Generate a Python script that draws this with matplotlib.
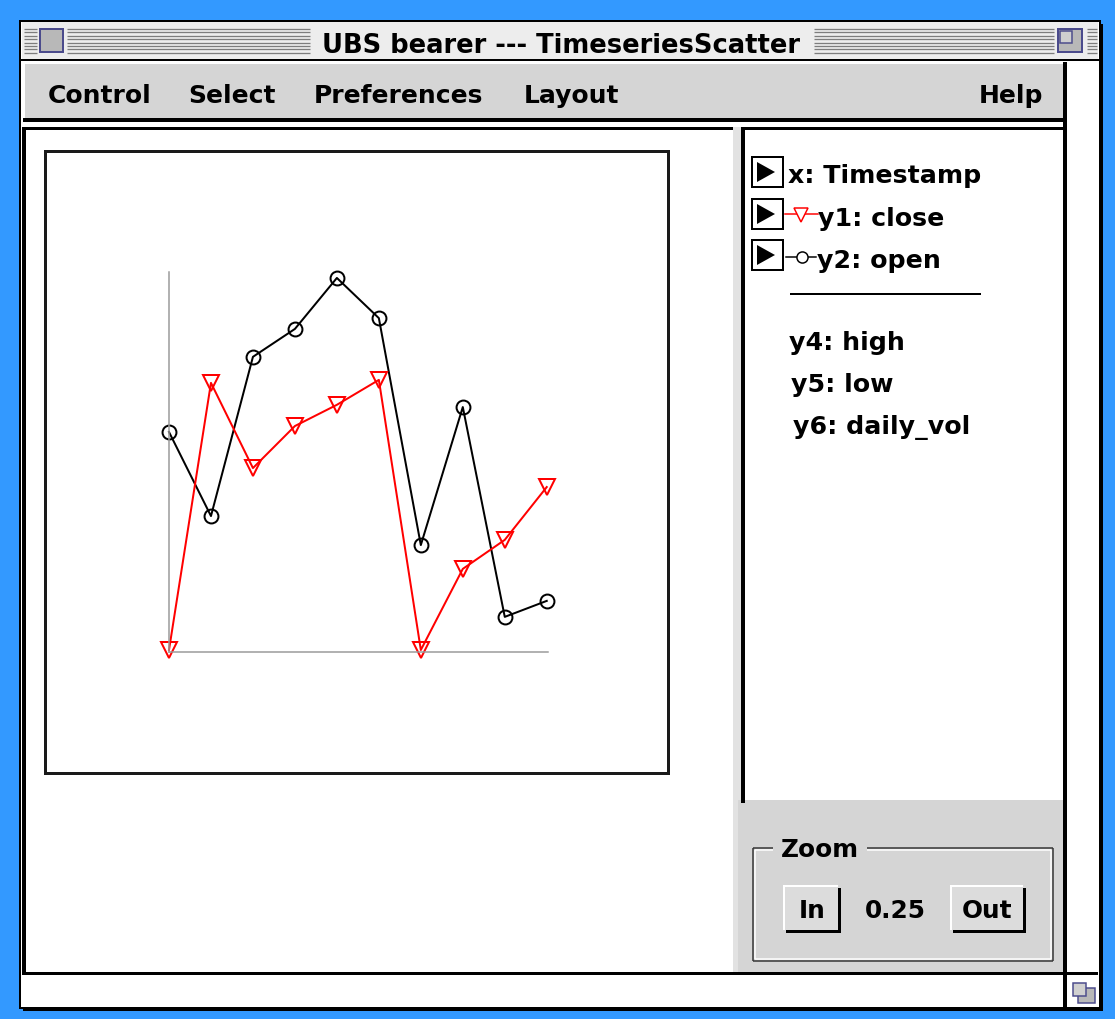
import matplotlib
matplotlib.use("Agg")
import matplotlib.pyplot as plt
from matplotlib.patches import Rectangle, Polygon
import numpy as np

# series (relative price scale, no tick labels shown)
day = [0, 1, 2, 3, 4, 5, 6, 7, 8, 9]
close_price = [0.0, 71.8, 48.9, 60.2, 65.9, 72.6, 0.0, 21.8, 29.6, 43.8]
open_price = [58.6, 36.0, 78.8, 86.3, 100.0, 89.2, 28.2, 65.3, 8.9, 13.2]

menu_items = ["Control", "Select", "Preferences", "Layout", "Help"]
legend_vars = ["y4: high", "y5: low", "y6: daily_vol"]

W, H = 1115, 1019
PX = 0.72  # one pixel in points at dpi 100

fig = plt.figure(figsize=(W / 100, H / 100), dpi=100, facecolor="#3399ff")
bg = fig.add_axes([0, 0, 1, 1])
bg.set_xlim(0, W)
bg.set_ylim(H, 0)
bg.axis("off")
renderer = fig.canvas.get_renderer()

NARROW = ["Liberation Sans Narrow", "DejaVu Sans"]
WIDE = ["DejaVu Sans"]


def box(x0, y0, x1, y1, fc="none", ec="none", lw=0, z=1):
    bg.add_patch(Rectangle((x0, y0), x1 - x0, y1 - y0, facecolor=fc,
                           edgecolor=ec, linewidth=lw * PX, zorder=z))


def seg(x0, y0, x1, y1, color="black", lw=1, z=3):
    bg.plot([x0, x1], [y0, y1], color=color, lw=lw * PX,
            solid_capstyle="butt", zorder=z)


def texts(items, family, weight="bold", base=20):
    # items: (string, x_left, x_right, baseline); one size for the group
    arts, ratios = [], []
    for s, x0, x1, y in items:
        t = bg.text((x0 + x1) / 2, y, s, fontsize=base, family=family,
                    weight=weight, ha="center", va="baseline", zorder=6)
        ratios.append((x1 - x0) / t.get_window_extent(renderer).width)
        arts.append(t)
    size = base * float(np.mean(ratios))
    for t in arts:
        t.set_fontsize(size)


# window + shadow
box(23, 24, 1103, 1011, fc="black", z=0)
box(20, 21, 1100, 1008, fc="white", ec="black", lw=2, z=0.5)

# title bar
box(22, 22, 1098, 59, fc="#ededed")
seg(21, 59.5, 1099, 59.5, lw=2)
for y in np.arange(29, 54, 3.4):
    for x0, x1 in [(24, 37), (67, 310), (814, 1054), (1087, 1097)]:
        seg(x0, y, x1, y, color="#7d7d7d", lw=1.3)
box(40, 29, 63, 52, fc="#b8b8b8", ec="#4b4b8c", lw=2, z=4)
box(1058, 29, 1082, 52, fc="#b8b8b8", ec="#4b4b8c", lw=2, z=4)
box(1060, 31, 1072, 43, fc="#cfcfcf", ec="#4b4b8c", lw=1.5, z=4)
texts([("UBS bearer --- TimeseriesScatter", 322, 800, 53)], NARROW)

# menu bar
box(23, 62, 1063, 118, fc="#d5d5d5")
seg(23, 63, 1063, 63, color="white", lw=2)
seg(24, 62, 24, 118, color="white", lw=2)
box(23, 118, 1067, 122, fc="black", z=3)
box(1063, 62, 1067, 1008, fc="black", z=3)
menu_x = [(48, 152), (188, 275), (311, 486), (522, 620), (981, 1041)]
texts([(m, a, b, 103) for m, (a, b) in zip(menu_items, menu_x)], NARROW)

# panels
box(22, 127, 733, 130, fc="black", z=3)
box(22, 127, 26, 972, fc="black", z=3)
box(733, 127, 741, 972, fc="#e2e2e2", z=2)
box(738, 800, 1063, 972, fc="#d5d5d5", z=2)
box(741, 127, 745, 803, fc="black", z=3)
box(741, 127, 1063, 130, fc="black", z=3)
box(22, 972, 1098, 975, fc="black", z=3)

# grow box
box(1078, 988, 1095, 1003, fc="#b8b8b8", ec="#4b4b8c", lw=1.5, z=4)
box(1073, 983, 1086, 996, fc="#d0d0d0", ec="#4b4b8c", lw=1.5, z=4)

# plot frame
box(45, 151, 668, 773, ec="#1a1a1a", lw=3, z=3)

# legend panel
for yc in [172, 214, 255]:
    box(752, yc - 15, 783, yc + 15, fc="white", ec="black", lw=2, z=4)
    bg.add_patch(Polygon([[757, yc - 10], [757, yc + 10], [775, yc]],
                         closed=True, fc="black", ec="none", zorder=5))
bg.plot([785, 818], [214, 214], color="red", lw=1.5 * PX, zorder=5)
bg.plot([801], [215], marker="v", markersize=10, mfc="white", mec="red",
        mew=1.5 * PX, zorder=6)
bg.plot([786, 816], [257, 257], color="black", lw=1.5 * PX, zorder=5)
bg.plot([802], [257], marker="o", markersize=8, mfc="white", mec="black",
        mew=1.5 * PX, zorder=6)
seg(790, 294, 981, 294, lw=2)
texts([("x: Timestamp", 790, 980, 183),
       ("y1: close", 818, 945, 226),
       ("y2: open", 818, 940, 268),
       (legend_vars[0], 790, 903, 350),
       (legend_vars[1], 790, 895, 392),
       (legend_vars[2], 790, 973, 434)], WIDE)

# zoom group
for (x0, y0, x1, y1), c in [((753, 848, 1053, 961), "#333333"),
                           ((755, 850, 1051, 959), "white")]:
    seg(x0, y0, 773, y0, color=c, lw=1.5)
    seg(867, y0, x1, y0, color=c, lw=1.5)
    seg(x0, y0, x0, y1, color=c, lw=1.5)
    seg(x1, y0, x1, y1, color=c, lw=1.5)
    seg(x0, y1, x1, y1, color=c, lw=1.5)
for x0, x1 in [(783, 840), (950, 1025)]:
    box(x0 + 3, 888, x1 + 1, 933, fc="black", z=3)
    box(x0, 885, x1 - 2, 930, fc="#dcdcdc", z=4)
    seg(x0, 886, x1 - 2, 886, color="white", lw=2, z=5)
    seg(x0 + 1, 885, x0 + 1, 930, color="white", lw=2, z=5)
texts([("Zoom", 782, 858, 857),
       ("In", 798, 827, 918),
       ("0.25", 865, 925, 918),
       ("Out", 963, 1011, 918)], WIDE)

# the scatter itself
ax = fig.add_axes([169 / W, 1 - 652 / H, (548 - 169) / W, (652 - 272) / H])
ax.patch.set_alpha(0)
ax.set_xlim(0, 9.03)
ax.set_ylim(-0.54, 101.6)
for side in ["top", "right"]:
    ax.spines[side].set_visible(False)
for side in ["left", "bottom"]:
    ax.spines[side].set_color("#999999")
    ax.spines[side].set_linewidth(1.5 * PX)
ax.set_xticks([])
ax.set_yticks([])
ax.plot(day, open_price, color="black", lw=2 * PX, marker="o",
        markersize=10, mfc="none", mec="black", mew=2 * PX, clip_on=False)
ax.plot(day, close_price, color="red", lw=2 * PX, marker="v",
        markersize=11, mfc="none", mec="red", mew=2 * PX, clip_on=False)

fig.savefig("out.png", dpi=100, facecolor=fig.get_facecolor())
